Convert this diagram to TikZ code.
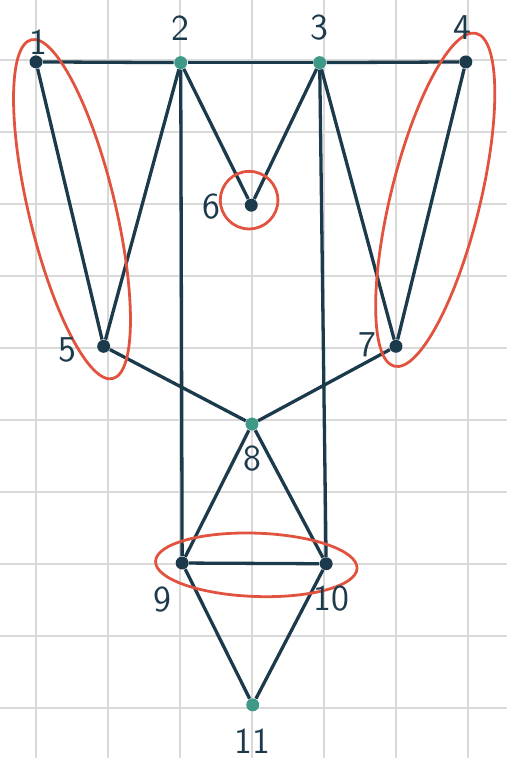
\documentclass[tikz,border=0pt]{standalone}
\usepackage{tikz}
\usetikzlibrary{positioning,calc}

\definecolor{gnavy}{HTML}{1B3A4B}
\definecolor{gteal}{HTML}{3E9A86}
\definecolor{gred}{HTML}{E2533F}
\definecolor{gline}{HTML}{D9D9D9}

\begin{document}
\begin{tikzpicture}[
  dot/.style={circle, fill=gnavy, inner sep=0pt, minimum size=0.18cm},
  tdot/.style={dot, fill=gteal},
  link/.style={gnavy, line width=1.3pt},
  loop/.style={gred, line width=1.1pt},
  lbl/.style={gnavy, inner sep=0pt, font=\sffamily\Large}
]
  \useasboundingbox[fill=white] (0,0) rectangle (7.042,-10.528);

  % squared paper
  \foreach \x in {0.5,1.5,...,6.5}
    \draw[gline, line width=0.8pt] (\x,0) -- (\x,-10.528);
  \foreach \y in {0,...,9}
    \draw[gline, line width=0.8pt] (0,-0.833-\y) -- (7.042,-0.833-\y);

  \node[dot]  (n1)  at (0.50,-0.86) {};
  \node[tdot] (n2)  at (2.51,-0.87) {};
  \node[tdot] (n3)  at (4.44,-0.87) {};
  \node[dot]  (n4)  at (6.47,-0.86) {};
  \node[dot]  (n6)  at (3.49,-2.85) {};
  \node[dot]  (n5)  at (1.44,-4.81) {};
  \node[dot]  (n7)  at (5.50,-4.81) {};
  \node[tdot] (n8)  at (3.50,-5.89) {};
  \node[dot]  (n9)  at (2.53,-7.82) {};
  \node[dot]  (n10) at (4.53,-7.83) {};
  \node[tdot] (n11) at (3.51,-9.79) {};

  \draw[link] (n1) -- (n2);
  \draw[link] (n2) -- (n3);
  \draw[link] (n3) -- (n4);
  \draw[link] (n1) -- (n5);
  \draw[link] (n2) -- (n5);
  \draw[link] (n2) -- (n6);
  \draw[link] (n3) -- (n6);
  \draw[link] (n3) -- (n7);
  \draw[link] (n4) -- (n7);
  \draw[link] (n2) -- (n9);
  \draw[link] (n3) -- (n10);
  \draw[link] (n5) -- (n8);
  \draw[link] (n7) -- (n8);
  \draw[link] (n8) -- (n9);
  \draw[link] (n8) -- (n10);
  \draw[link] (n9) -- (n10);
  \draw[link] (n9) -- (n11);
  \draw[link] (n10) -- (n11);

  % red loops
  \draw[loop] ($(n1)!0.5!(n5)+(0.03,-0.07)$) ellipse [x radius=2.42cm, y radius=0.6cm, rotate=-76.5];
  \draw[loop] ($(n4)!0.5!(n7)+(0.06,0.06)$) ellipse [x radius=2.38cm, y radius=0.62cm, rotate=76.2];
  \draw[loop] ($(n6)+(-0.03,0.07)$) circle [radius=0.4cm];
  \draw[loop] ($(n9)!0.5!(n10)+(0.03,-0.02)$) ellipse [x radius=1.4cm, y radius=0.44cm, rotate=-2];

  \node[lbl] (l1)  at (0.53,-0.58)  {1};
  \node[lbl] (l2)  at (2.51,-0.39)  {2};
  \node[lbl] (l3)  at (4.43,-0.38)  {3};
  \node[lbl] (l4)  at (6.42,-0.38)  {4};
  \node[lbl] (l6)  at (2.94,-2.87)  {6};
  \node[lbl] (l5)  at (0.94,-4.86)  {5};
  \node[lbl] (l7)  at (5.10,-4.79)  {7};
  \node[lbl] (l8)  at (3.50,-6.37)  {8};
  \node[lbl] (l9)  at (2.26,-8.33)  {9};
  \node[lbl] (l10) at (4.60,-8.31)  {10};
  \node[lbl] (l11) at (3.51,-10.29) {11};
\end{tikzpicture}
\end{document}
